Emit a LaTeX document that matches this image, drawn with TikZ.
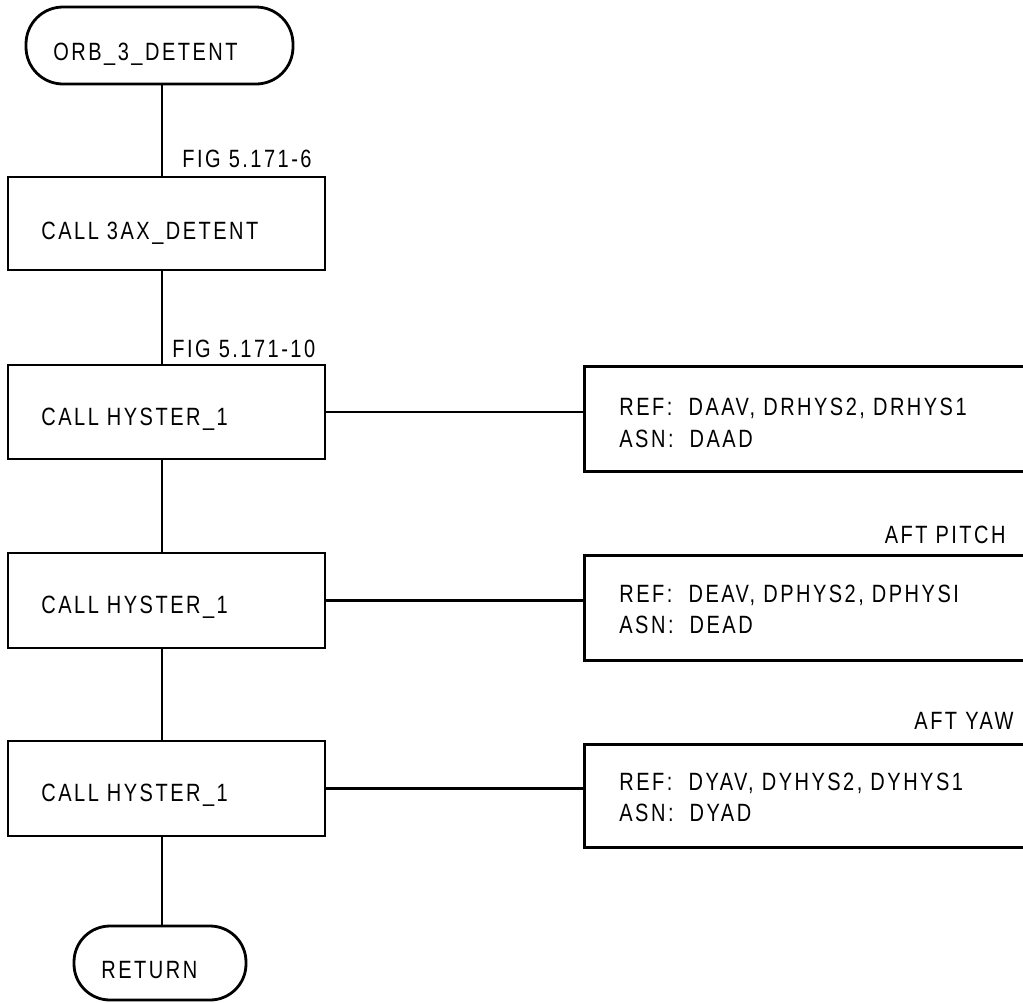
\documentclass[tikz,border=0pt]{standalone}
\usepackage{fontspec}
\setmainfont{Liberation Sans}[FakeStretch=0.8, LetterSpace=10]
\begin{document}
\begin{tikzpicture}[x=1pt,y=-1pt, line width=2.8pt,
  box/.style={draw, rectangle, minimum width=317pt, inner sep=0pt},
  term/.style={draw, rectangle, inner sep=0pt},
  rbox/.style={draw, rectangle, minimum width=500pt, anchor=north west, inner sep=0pt},
  txt/.style={anchor=base west, inner sep=0pt, font=\fontsize{25}{29}\selectfont},
  txte/.style={anchor=base east, inner sep=0pt, font=\fontsize{25}{29}\selectfont}]
\useasboundingbox (0,0) rectangle (1023,1002);
\clip (0,0) rectangle (1023,1002);
\coordinate (ax) at (162,0);
% terminators
\node[term, rounded corners=37pt, minimum width=267pt, minimum height=77pt] (start) at (159.5,45.5) {};
\node[txt] (startt) at (52,60) {ORB\_3\_DETENT};
\node[term, rounded corners=36pt, minimum width=172pt, minimum height=74pt] (ret) at (160,963) {};
\node[txt] (rett) at (100,978) {RETURN};
% left boxes
\node[box, minimum height=93pt] (b1) at (166.5,223.5) {};
\node[txt] (b1t) at (40,239) {CALL 3AX\_DETENT};
\node[box, minimum height=94pt] (b2) at (166.5,412) {};
\node[txt] (b2t) at (40,425) {CALL HYSTER\_1};
\node[box, minimum height=95pt] (b3) at (166.5,600.5) {};
\node[txt] (b3t) at (40,613) {CALL HYSTER\_1};
\node[box, minimum height=95pt] (b4) at (166.5,788.5) {};
\node[txt] (b4t) at (40,801) {CALL HYSTER\_1};
% labels
\node[txt] (f1) at (181,167) {FIG 5.171-6};
\node[txt] (f2) at (171,357) {FIG 5.171-10};
% right boxes
\node[rbox, minimum height=105pt] (rA) at (583,365) {};
\node[txt] (rA1) at (618,415) {REF:\ \ DAAV, DRHYS2, DRHYS1};
\node[txt] (rA2) at (618,447) {ASN:\ \ DAAD};
\node[rbox, minimum height=105pt] (rB) at (583,554) {};
\node[txt] (rB1) at (618,602) {REF:\ \ DEAV, DPHYS2, DPHYSI};
\node[txt] (rB2) at (618,633) {ASN:\ \ DEAD};
\node[txte] (pitch) at (1007,543) {AFT PITCH};
\node[rbox, minimum height=103pt] (rC) at (583,743) {};
\node[txt] (rC1) at (618,790) {REF:\ \ DYAV, DYHYS2, DYHYS1};
\node[txt] (rC2) at (618,821) {ASN:\ \ DYAD};
\node[txte] (yaw) at (1015,729) {AFT YAW};
% connectors
\draw (start.south -| ax) -- (b1.north -| ax);
\draw (b1.south -| ax) -- (b2.north -| ax);
\draw (b2.south -| ax) -- (b3.north -| ax);
\draw (b3.south -| ax) -- (b4.north -| ax);
\draw (b4.south -| ax) -- (ret.north -| ax);
\draw (b2.east) -- (b2.east -| rA.west);
\draw (b3.east) -- (b3.east -| rB.west);
\draw (b4.east) -- (b4.east -| rC.west);
\end{tikzpicture}
\end{document}
